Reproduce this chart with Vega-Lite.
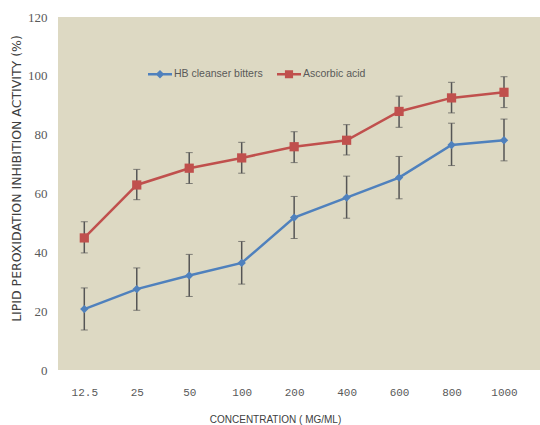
{
  "$schema": "https://vega.github.io/schema/vega-lite/v6.json",
  "autosize": {"type": "none"},
  "padding": {"left": 58, "top": 17, "right": 0, "bottom": 55},
  "width": 482,
  "height": 353,
  "background": "white",
  "config": {"view": {"fill": "#ddd9c3", "stroke": null}},
  "data": {"values": [
    {"conc": "12.5", "series": "HB cleanser bitters", "value": 20.7, "lo": 13.6, "hi": 27.9},
    {"conc": "25", "series": "HB cleanser bitters", "value": 27.5, "lo": 20.3, "hi": 34.7},
    {"conc": "50", "series": "HB cleanser bitters", "value": 32.1, "lo": 25.0, "hi": 39.3},
    {"conc": "100", "series": "HB cleanser bitters", "value": 36.4, "lo": 29.2, "hi": 43.7},
    {"conc": "200", "series": "HB cleanser bitters", "value": 51.8, "lo": 44.7, "hi": 59.0},
    {"conc": "400", "series": "HB cleanser bitters", "value": 58.6, "lo": 51.6, "hi": 65.9},
    {"conc": "600", "series": "HB cleanser bitters", "value": 65.4, "lo": 58.2, "hi": 72.6},
    {"conc": "800", "series": "HB cleanser bitters", "value": 76.5, "lo": 69.5, "hi": 83.9},
    {"conc": "1000", "series": "HB cleanser bitters", "value": 78.1, "lo": 71.1, "hi": 85.3},
    {"conc": "12.5", "series": "Ascorbic acid", "value": 44.9, "lo": 39.8, "hi": 50.4},
    {"conc": "25", "series": "Ascorbic acid", "value": 62.9, "lo": 57.9, "hi": 68.2},
    {"conc": "50", "series": "Ascorbic acid", "value": 68.6, "lo": 63.4, "hi": 73.9},
    {"conc": "100", "series": "Ascorbic acid", "value": 72.1, "lo": 66.9, "hi": 77.4},
    {"conc": "200", "series": "Ascorbic acid", "value": 75.9, "lo": 70.5, "hi": 81.0},
    {"conc": "400", "series": "Ascorbic acid", "value": 78.1, "lo": 73.1, "hi": 83.4},
    {"conc": "600", "series": "Ascorbic acid", "value": 87.9, "lo": 82.5, "hi": 93.1},
    {"conc": "800", "series": "Ascorbic acid", "value": 92.5, "lo": 87.4, "hi": 97.8},
    {"conc": "1000", "series": "Ascorbic acid", "value": 94.4, "lo": 89.2, "hi": 99.7}
  ]},
  "encoding": {
    "x": {
      "field": "conc", "type": "ordinal",
      "scale": {"type": "point", "padding": 0, "domain": ["12.5","25","50","100","200","400","600","800","1000"], "range": [26.3, 446]},
      "axis": {
        "title": "CONCENTRATION ( MG/ML)",
        "labelAngle": 0, "domain": false, "ticks": false, "grid": false,
        "labelFont": "Liberation Mono", "labelFontSize": 11, "labelColor": "#595959",
        "labelBaseline": "middle", "labelPadding": 22,
        "titleFont": "Liberation Sans", "titleFontSize": 10, "titleFontWeight": "normal", "titleColor": "#404040",
        "titleX": 217, "titleY": 49, "titleBaseline": "middle", "titleAlign": "center"
      }
    }
  },
  "layer": [
    {
      "mark": {"type": "errorbar", "ticks": {"size": 7, "color": "#555555", "strokeWidth": 1.5}, "rule": {"color": "#555555", "strokeWidth": 1.5}},
      "encoding": {
        "y": {"field": "lo", "type": "quantitative", "scale": {"domain": [0, 120]},
          "axis": {
            "title": "LIPID PEROXIDATION INHIBITION ACTIVITY (%)",
            "values": [0, 20, 40, 60, 80, 100, 120],
            "domain": false, "ticks": false, "grid": false,
            "labelFont": "Liberation Serif", "labelFontSize": 13, "labelColor": "#595959", "labelPadding": 11,
            "titleFont": "DejaVu Sans", "titleFontSize": 12.5, "titleFontWeight": "normal", "titleColor": "#404040",
            "titleX": -42, "titleY": 161, "titleAlign": "center", "titleBaseline": "middle", "titleAngle": -90
          }
        },
        "y2": {"field": "hi"}
      }
    },
    {
      "mark": {"type": "line", "strokeWidth": 2.5},
      "encoding": {
        "y": {"field": "value", "type": "quantitative"},
        "color": {
          "field": "series", "type": "nominal",
          "scale": {"domain": ["HB cleanser bitters", "Ascorbic acid"], "range": ["#4f81bd", "#c0504d"]},
          "legend": {
            "title": null, "orient": "none", "direction": "horizontal",
            "legendX": 90, "legendY": 45,
            "symbolSize": 576, "symbolStrokeWidth": 0,
            "symbolType": "M-1,-0.1H1V0.1H-1Z M0,-0.36L0.36,0L0,0.36L-0.36,0Z",
            "labelFont": "Liberation Sans", "labelFontSize": 10.5, "labelColor": "#595959",
            "labelOffset": 2, "columnPadding": 14,
            "encode": {"symbols": {"update": {
              "shape": {"signal": "datum.value === 'HB cleanser bitters' ? 'M-1,-0.1H1V0.1H-1Z M0,-0.36L0.36,0L0,0.36L-0.36,0Z' : 'M-1,-0.1H1V0.1H-1Z M-0.34,-0.34H0.34V0.34H-0.34Z'"},
              "fill": {"signal": "datum.value === 'HB cleanser bitters' ? '#4f81bd' : '#c0504d'"},
              "fillOpacity": {"value": 1},
              "strokeWidth": {"value": 0}
            }}}
          }
        }
      }
    },
    {
      "transform": [{"filter": "datum.series === 'HB cleanser bitters'"}],
      "mark": {"type": "point", "filled": true, "opacity": 1, "shape": "diamond", "size": 70},
      "encoding": {
        "y": {"field": "value", "type": "quantitative"},
        "color": {"field": "series", "type": "nominal"}
      }
    },
    {
      "transform": [{"filter": "datum.series === 'Ascorbic acid'"}],
      "mark": {"type": "point", "filled": true, "opacity": 1, "shape": "square", "size": 85},
      "encoding": {
        "y": {"field": "value", "type": "quantitative"},
        "color": {"field": "series", "type": "nominal"}
      }
    }
  ]
}
